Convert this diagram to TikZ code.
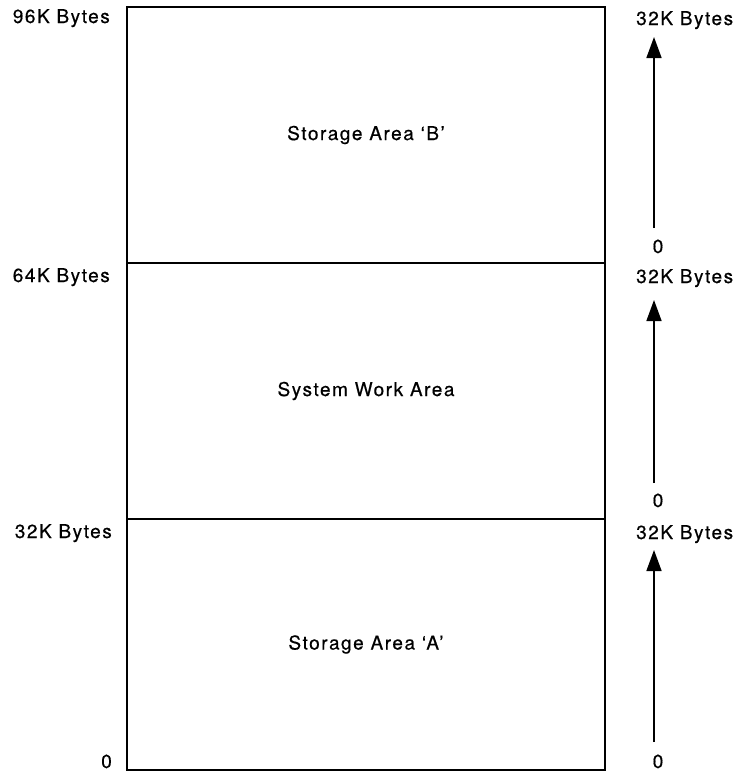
\documentclass[tikz,border=0pt]{standalone}
\usepackage{fontspec}
\setmainfont{TeX Gyre Heros}[LetterSpace=8,FakeBold=0.5]
\usetikzlibrary{arrows.meta}
\begin{document}
\begin{tikzpicture}[x=1pt,y=-1pt,
  area/.style={draw, line width=2.8pt, minimum width=478pt, inner sep=0pt, font=\fontsize{19}{22}\selectfont},
  lbl/.style={inner sep=0pt, font=\fontsize{19}{22}\selectfont},
  arr/.style={line width=1.6pt, -{Triangle[length=21pt,width=15pt]}}]
\useasboundingbox (0,0) rectangle (738,774);
% storage areas
\node[area, minimum height=256pt] (B) at (366,135) {Storage Area `B'};
\node[area, minimum height=256pt] (W) at (366,391) {System Work Area};
\node[area, minimum height=251pt] (A) at (366,644.5) {Storage Area `A'};
% left scale
\node[lbl, anchor=base east] (l96) at (110,23) {96K Bytes};
\node[lbl, anchor=base east] (l64) at (110,282) {64K Bytes};
\node[lbl, anchor=base east] (l32) at (112,538) {32K Bytes};
\node[lbl, anchor=base east] (l0) at (112,768) {0};
% right scale
\node[lbl, anchor=base west] (r1) at (636,25) {32K Bytes};
\node[lbl, anchor=base] (z1) at (658,253) {0};
\node[lbl, anchor=base west] (r2) at (636,283) {32K Bytes};
\node[lbl, anchor=base] (z2) at (658,507) {0};
\node[lbl, anchor=base west] (r3) at (636,539) {32K Bytes};
\node[lbl, anchor=base] (z3) at (658,768) {0};
\coordinate (s1) at (654,228); \coordinate (t1) at (654,37);
\coordinate (s2) at (654,483); \coordinate (t2) at (654,300);
\coordinate (s3) at (654,742); \coordinate (t3) at (654,550);
\draw[arr] (s1) -- (t1);
\draw[arr] (s2) -- (t2);
\draw[arr] (s3) -- (t3);
\end{tikzpicture}
\end{document}
